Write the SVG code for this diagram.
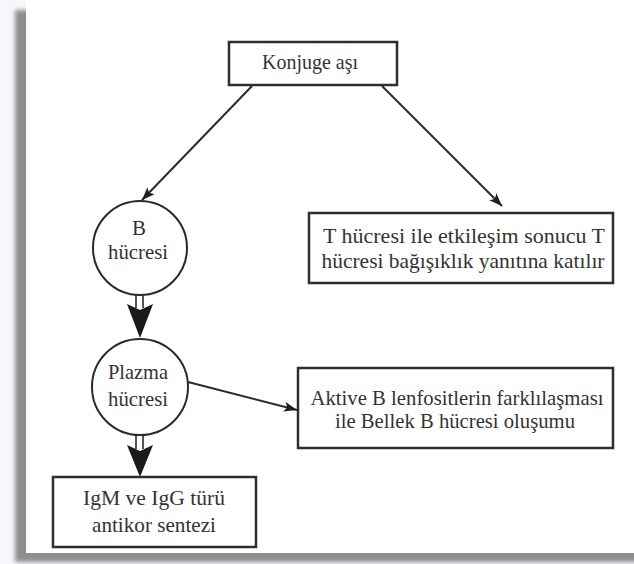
<svg xmlns="http://www.w3.org/2000/svg" width="634" height="564" viewBox="0 0 634 564">
  <style>
    .box { fill: #ffffff; stroke: #2e2e2e; stroke-width: 2.5; }
    .circ { fill: #ffffff; stroke: #2a2a2a; stroke-width: 2; }
    .txt { font-family: "Liberation Serif", "Times New Roman", serif; font-size: 21px; fill: #333333; text-anchor: middle; }
    .conn { stroke: #2a2a2a; stroke-width: 2; fill: none; }
    .shaft { stroke: #2a2a2a; stroke-width: 1.6; }
    .head { fill: #1a1a1a; }
  </style>
  <defs>
    <marker id="arr" markerUnits="userSpaceOnUse" markerWidth="16" markerHeight="12" refX="13" refY="5" orient="auto">
      <path d="M0,0 L13,5 L0,10 L3,5 Z" fill="#1e1e1e"/>
    </marker>
    <filter id="blur" x="-5%" y="-5%" width="110%" height="110%">
      <feGaussianBlur stdDeviation="2"/>
    </filter>
  </defs>

  <!-- frame -->
  <rect x="0" y="0" width="634" height="564" fill="#f5f7fb"/>
  <rect x="15" y="10" width="640" height="552" fill="#8e8e8e" filter="url(#blur)"/>
  <rect x="26" y="-5" width="620" height="558" fill="#ffffff"/>

  <!-- connectors -->
  <g id="connectors">
    <line class="conn" x1="252" y1="86" x2="142" y2="200" marker-end="url(#arr)"/>
    <line class="conn" x1="382" y1="86" x2="502" y2="206" marker-end="url(#arr)"/>
    <line class="conn" x1="188" y1="382" x2="297" y2="410" marker-end="url(#arr)"/>
    <!-- double arrow B -> Plazma -->
    <line class="shaft" x1="136" y1="295" x2="136" y2="308"/>
    <line class="shaft" x1="143" y1="295" x2="143" y2="308"/>
    <path class="head" d="M127,304 L140,310 L153,304 L140,338 Z"/>
    <!-- double arrow Plazma -> IgM -->
    <line class="shaft" x1="136" y1="436" x2="136" y2="449"/>
    <line class="shaft" x1="143" y1="436" x2="143" y2="449"/>
    <path class="head" d="M127,445 L140,451 L153,445 L140,477 Z"/>
  </g>

  <g id="konjuge-asi">
    <rect class="box" x="229" y="42" width="168" height="43"/>
    <text class="txt" x="310" y="69" font-size="20" textLength="96" lengthAdjust="spacingAndGlyphs">Konjuge aşı</text>
  </g>

  <g id="b-hucresi">
    <circle class="circ" cx="140" cy="248" r="47"/>
    <text class="txt" x="139" y="235">B</text>
    <text class="txt" x="138" y="259" textLength="60" lengthAdjust="spacingAndGlyphs">hücresi</text>
  </g>

  <g id="t-hucresi">
    <rect class="box" x="309" y="213" width="304" height="70"/>
    <text class="txt" x="464" y="243" textLength="282" lengthAdjust="spacingAndGlyphs">T hücresi ile etkileşim sonucu T</text>
    <text class="txt" x="463" y="268" textLength="283" lengthAdjust="spacingAndGlyphs">hücresi bağışıklık yanıtına katılır</text>
  </g>

  <g id="plazma-hucresi">
    <circle class="circ" cx="140" cy="387" r="48"/>
    <text class="txt" x="138" y="379" textLength="60" lengthAdjust="spacingAndGlyphs">Plazma</text>
    <text class="txt" x="138" y="406" textLength="60" lengthAdjust="spacingAndGlyphs">hücresi</text>
  </g>

  <g id="bellek-b">
    <rect class="box" x="298" y="368" width="315" height="80"/>
    <text class="txt" x="457" y="405" textLength="293" lengthAdjust="spacingAndGlyphs">Aktive B lenfositlerin farklılaşması</text>
    <text class="txt" x="455" y="428" textLength="240" lengthAdjust="spacingAndGlyphs">ile Bellek B hücresi oluşumu</text>
  </g>

  <g id="antikor-sentezi">
    <rect class="box" x="53" y="477" width="203" height="70"/>
    <text class="txt" x="154" y="505" textLength="142" lengthAdjust="spacingAndGlyphs">IgM ve IgG türü</text>
    <text class="txt" x="154" y="532" textLength="124" lengthAdjust="spacingAndGlyphs">antikor sentezi</text>
  </g>
</svg>
